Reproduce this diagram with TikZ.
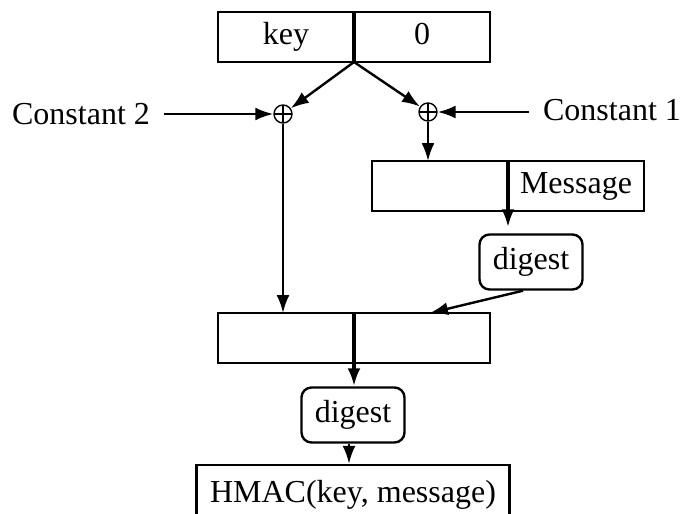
\documentclass[tikz,border=0pt]{standalone}
\usepackage{fontspec}
\setmainfont{Liberation Serif}
\usetikzlibrary{arrows.meta, positioning}
\tikzstyle{every node}=[font=\fontsize{16}{19}\selectfont]
\tikzstyle{cell}=[draw,rectangle,line width=1.2pt,outer sep=0pt,minimum width=68pt,minimum height=25pt,inner sep=0pt,text height=11pt,text depth=3.5pt]
\tikzstyle{digestbox}=[draw,rectangle,rounded corners=5pt,line width=1.2pt,minimum width=51.5pt,minimum height=27.5pt,inner sep=0pt]
\tikzstyle{xor}=[draw,circle,line width=0.7pt,minimum size=9pt,inner sep=0pt,path picture={\draw[line width=0.7pt] (path picture bounding box.north) -- (path picture bounding box.south) (path picture bounding box.west) -- (path picture bounding box.east);}]
\tikzstyle{divider}=[line width=2pt]

\begin{document}
\begin{tikzpicture}[x=0.5pt,y=-0.5pt,>={Latex[length=9pt,width=6.5pt]},line width=1.2pt]
  \useasboundingbox (0,0) rectangle (686,514);
  \clip (0,0) rectangle (686,514);
  % key and padding
  \node[cell] (keycell) at (286,37) {key};
  \node[cell, right=0pt of keycell] (zerocell) {0};
  \node[xor] (xorL) at (283,114) {};
  \node[xor] (xorR) at (428,112) {};
  \node (constL) at (81,114) {Constant 2};
  \node (constR) at (612,110) {Constant 1};
  % inner hash
  \node[cell] (msgL) at (440,186) {};
  \node[cell, right=0pt of msgL] (msgR) {Message};
  \node[digestbox] (digest1) at (531,262) {digest};
  % outer hash
  \node[cell] (botL) at (286,338) {};
  \node[cell, right=0pt of botL] (botR) {};
  \node[digestbox] (digest2) at (353,415) {digest};
  \node[draw, minimum width=156.5pt, minimum height=30pt] (hmac) at (353,495) {HMAC(key, message)};

  \draw[divider] (keycell.north east) -- (keycell.south east);
  \draw[->] (keycell.south east) -- (xorL);
  \draw[->] (keycell.south east) -- (xorR);
  \draw[->, shorten <=3pt] (constL.east) -- (xorL.west);
  \draw[->, shorten <=3pt] (constR.west |- xorR) -- (xorR.east);
  \draw[->] (xorL) -- (xorL |- botL.north);
  \draw[->] (xorR) -- (xorR |- msgL.north);
  \draw[divider] (msgL.north east) -- (msgL.south east);
  \draw[divider, ->] (msgL.south east) -- ([yshift=3pt]digest1.north -| msgL.east);
  \draw[->] ([xshift=-4pt]digest1.south) -- ([xshift=4pt]botR.north);
  \draw[divider] (botL.north east) -- (botL.south east);
  \draw[divider, ->] (botL.south east) -- (botL.east |- digest2.north);
  \draw[->] ([xshift=-2pt]digest2.south) -- ([xshift=-2pt]digest2.south |- hmac.north);
\end{tikzpicture}
\end{document}
